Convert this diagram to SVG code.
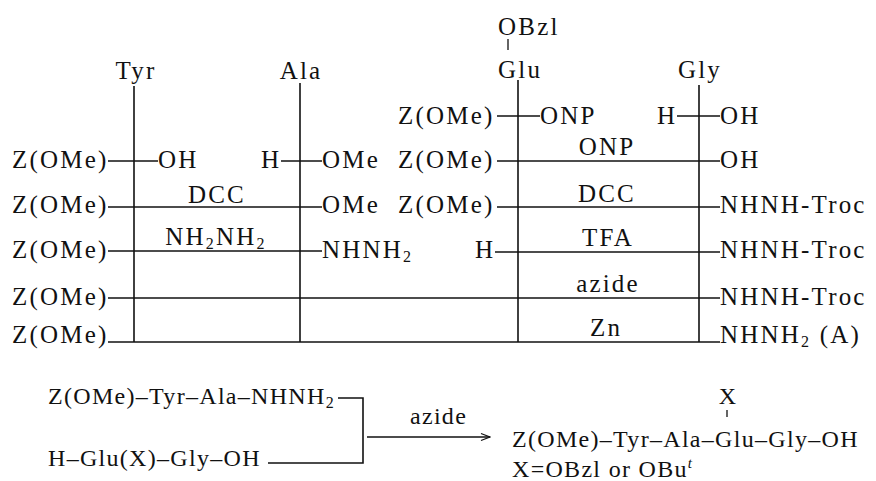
<svg xmlns="http://www.w3.org/2000/svg" width="876" height="481" viewBox="0 0 876 481">
<style>
  text { font-family: "Liberation Serif", "Times New Roman", "DejaVu Serif", serif; font-size: 25px; fill: #111; letter-spacing: 2.2px; }
  .c { text-anchor: middle; }
  .b { font-size: 24px; letter-spacing: 1.3px; }
  .sub { font-size: 16px; }
  line, path { stroke: #111; stroke-width: 1.6; fill: none; }
  .tick { stroke-width: 1.3; }
</style>
<defs>
  <marker id="ah" viewBox="0 0 12 10" refX="11" refY="5" markerWidth="12" markerHeight="10" markerUnits="userSpaceOnUse" orient="auto">
    <path d="M2,1.5 L11,5 L2,8.5" style="stroke-width:1.3"/>
  </marker>
</defs>

<g id="connectors">
  <!-- residue columns -->
  <line x1="134" y1="86" x2="134" y2="342"/>
  <line x1="300" y1="83" x2="300" y2="342"/>
  <line x1="518" y1="80" x2="518" y2="342"/>
  <line x1="699" y1="85" x2="699" y2="342"/>
  <line class="tick" x1="508" y1="39" x2="508" y2="50"/>
  <!-- row 0 -->
  <line x1="497" y1="116" x2="540" y2="116"/>
  <line x1="677" y1="116" x2="720" y2="116"/>
  <!-- row 1 -->
  <line x1="108" y1="161" x2="158" y2="161"/>
  <line x1="281" y1="161" x2="322" y2="161"/>
  <line x1="497" y1="161" x2="720" y2="161"/>
  <!-- row 2 -->
  <line x1="108" y1="207" x2="322" y2="207"/>
  <line x1="497" y1="207" x2="720" y2="207"/>
  <!-- row 3 -->
  <line x1="108" y1="251" x2="322" y2="251"/>
  <line x1="495" y1="252" x2="720" y2="252"/>
  <!-- row 4 -->
  <line x1="108" y1="298" x2="720" y2="298"/>
  <!-- row 5 -->
  <line x1="108" y1="342" x2="720" y2="342"/>
  <!-- bottom scheme -->
  <path d="M338,398 H363 V463 H268"/>
  <line x1="367" y1="437" x2="490" y2="437" marker-end="url(#ah)"/>
  <line class="tick" x1="727" y1="410" x2="727" y2="417"/>
</g>

<g id="headers">
  <text x="498" y="35">OBzl</text>
  <text class="c" x="136" y="79">Tyr</text>
  <text class="c" x="301" y="79">Ala</text>
  <text x="498" y="78">Glu</text>
  <text class="c" x="700" y="78">Gly</text>
</g>

<g id="row0">
  <text x="398" y="124">Z(OMe)</text>
  <text x="540" y="124">ONP</text>
  <text x="657" y="124">H</text>
  <text x="720" y="124">OH</text>
</g>

<g id="row1">
  <text x="12" y="168">Z(OMe)</text>
  <text x="158" y="168">OH</text>
  <text x="261" y="168">H</text>
  <text x="322" y="168">OMe</text>
  <text x="398" y="168">Z(OMe)</text>
  <text class="c" x="607" y="155">ONP</text>
  <text x="720" y="168">OH</text>
</g>

<g id="row2">
  <text x="12" y="213">Z(OMe)</text>
  <text class="c" x="217" y="203">DCC</text>
  <text x="322" y="213">OMe</text>
  <text x="398" y="213">Z(OMe)</text>
  <text class="c" x="607" y="202">DCC</text>
  <text x="720" y="213">NHNH-Troc</text>
</g>

<g id="row3">
  <text x="12" y="258">Z(OMe)</text>
  <text class="c" x="216" y="245">NH<tspan class="sub" dy="4">2</tspan><tspan dy="-4">NH</tspan><tspan class="sub" dy="4">2</tspan></text>
  <text x="322" y="258">NHNH<tspan class="sub" dy="4">2</tspan></text>
  <text x="475" y="258">H</text>
  <text class="c" x="608" y="246">TFA</text>
  <text x="720" y="258">NHNH-Troc</text>
</g>

<g id="row4">
  <text x="12" y="305">Z(OMe)</text>
  <text class="c" x="608" y="292">azide</text>
  <text x="720" y="305">NHNH-Troc</text>
</g>

<g id="row5">
  <text x="12" y="343">Z(OMe)</text>
  <text class="c" x="606" y="336">Zn</text>
  <text x="720" y="343">NHNH<tspan class="sub" dy="4">2</tspan><tspan dy="-4"> (A)</tspan></text>
</g>

<g id="scheme">
  <text class="b" x="48" y="404">Z(OMe)–Tyr–Ala–NHNH<tspan class="sub" dy="4">2</tspan></text>
  <text class="b" x="48" y="466">H–Glu(X)–Gly–OH</text>
  <text class="b" x="410" y="424">azide</text>
  <text class="b c" x="728" y="404">X</text>
  <text class="b" x="512" y="447">Z(OMe)–Tyr–Ala–Glu–Gly–OH</text>
  <text class="b" x="512" y="477">X=OBzl or OBu<tspan font-size="15" font-style="italic" dy="-9">t</tspan></text>
</g>
</svg>
